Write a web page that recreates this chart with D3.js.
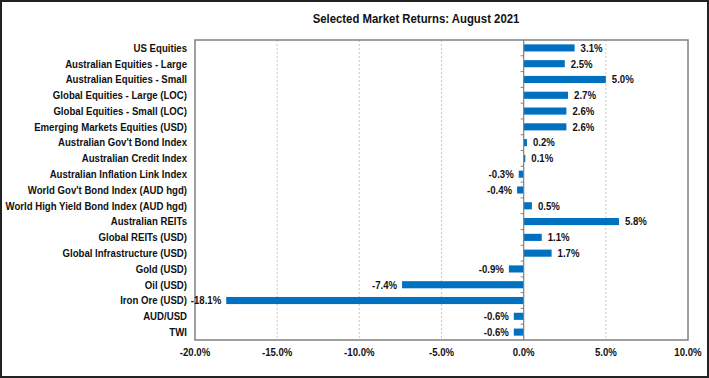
<!DOCTYPE html>
<html><head><meta charset="utf-8">
<script src="https://cdn.jsdelivr.net/npm/d3@7"></script>
<style>
html,body{margin:0;padding:0;background:#fff;}
svg{display:block;}
text{font-family:"Liberation Sans",Arial,sans-serif;font-weight:bold;}
</style></head>
<body><svg id="c" width="709" height="378"></svg>
<script>
const categories = ["US Equities","Australian Equities - Large","Australian Equities - Small","Global Equities - Large (LOC)","Global Equities - Small (LOC)","Emerging Markets Equities (USD)","Australian Gov't Bond Index","Australian Credit Index","Australian Inflation Link Index","World Gov't Bond Index (AUD hgd)","World High Yield Bond Index (AUD hgd)","Australian REITs","Global REITs (USD)","Global Infrastructure (USD)","Gold (USD)","Oil (USD)","Iron Ore (USD)","AUD/USD","TWI"];
const values = [3.1,2.5,5.0,2.7,2.6,2.6,0.2,0.1,-0.3,-0.4,0.5,5.8,1.1,1.7,-0.9,-7.4,-18.1,-0.6,-0.6];
const xTicks = [-20,-15,-10,-5,0,5,10];
const title = "Selected Market Returns: August 2021";

const SX = 0.875;
const svg = d3.select("#c");
const W = 709, H = 378;
svg.append("rect").attr("x",1).attr("y",1).attr("width",W-2).attr("height",H-2)
  .attr("fill","#fff").attr("stroke","#222").attr("stroke-width",2);

const L = 195, R = 688, T = 40, B = 340;
const x = d3.scaleLinear().domain([-20,10]).range([L,R]);
const y = d3.scaleBand().domain(categories).range([T,B]).paddingInner(0.55).paddingOuter(0.275);

// gridlines
svg.append("g").selectAll("line").data(xTicks.filter(t=>t!==0 && t!==-20 && t!==10)).join("line")
  .attr("x1",d=>x(d)).attr("x2",d=>x(d)).attr("y1",T).attr("y2",B)
  .attr("stroke","#c8c8c8").attr("stroke-width",1).attr("stroke-dasharray","2,2");

// plot border
svg.append("rect").attr("x",L).attr("y",T).attr("width",R-L).attr("height",B-T)
  .attr("fill","none").attr("stroke","#808080").attr("stroke-width",1.5);

// bars
svg.append("g").selectAll("rect").data(values).join("rect")
  .attr("x",d=>x(Math.min(0,d))).attr("width",d=>Math.abs(x(d)-x(0)))
  .attr("y",(d,i)=>y(categories[i])).attr("height",y.bandwidth())
  .attr("fill","#0070C0");

// zero axis with ticks
const step = y.step();
const zg = svg.append("g");
zg.append("line").attr("x1",x(0)).attr("x2",x(0)).attr("y1",T).attr("y2",B).attr("stroke","#808080").attr("stroke-width",1.2);
zg.selectAll("line.tk").data(d3.range(1,categories.length)).join("line").attr("class","tk")
  .attr("x1",x(0)-3).attr("x2",x(0)).attr("y1",i=>T+i*step).attr("y2",i=>T+i*step)
  .attr("stroke","#808080").attr("stroke-width",1);

const tr = (px,py)=>`translate(${px},${py}) scale(${SX},1)`;

// value labels
svg.append("g").selectAll("text").data(values).join("text")
  .attr("transform",(d,i)=>tr(d>=0? x(d)+6 : x(d)-5, y(categories[i])+y.bandwidth()/2))
  .attr("dy","0.35em")
  .attr("text-anchor",d=>d>=0?"start":"end")
  .attr("font-size",11).attr("fill","#111")
  .text(d=>d.toFixed(1)+"%");

// category labels
svg.append("g").selectAll("text").data(categories).join("text")
  .attr("transform",d=>tr(187, y(d)+y.bandwidth()/2)).attr("dy","0.35em")
  .attr("text-anchor","end").attr("font-size",11).attr("fill","#111").text(d=>d);

// x tick labels
svg.append("g").selectAll("text").data(xTicks).join("text")
  .attr("transform",d=>tr(x(d),352)).attr("dy","0.35em").attr("text-anchor","middle")
  .attr("font-size",11).attr("fill","#111").text(d=>d.toFixed(1)+"%");

svg.append("text").attr("transform",tr(416,18)).attr("dy","0.35em").attr("text-anchor","middle")
  .attr("font-size",13).attr("fill","#111").text(title);
</script></body></html>
